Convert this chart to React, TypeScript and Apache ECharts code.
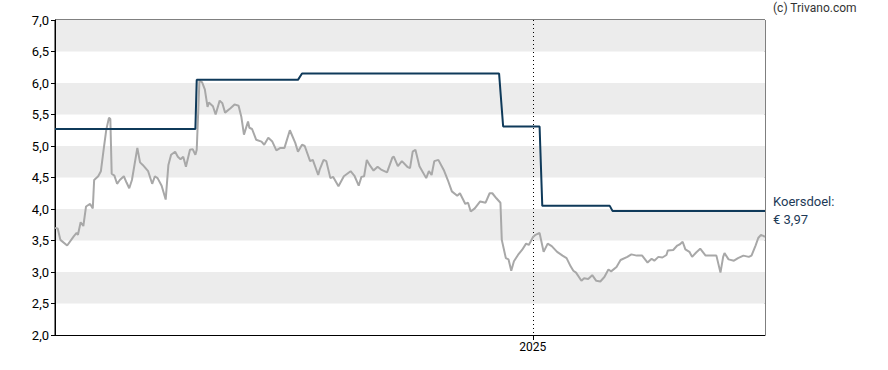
import React, { useEffect, useRef } from "react";
import * as echarts from "echarts";

// Day offsets are counted from the first day shown on the x axis (2024-01-13).
const startYear = 2024;
const startMonth = 0;
const startDay = 13;
const dayCount = 527;

const yTicks = [2, 2.5, 3, 3.5, 4, 4.5, 5, 5.5, 6, 6.5, 7];
const yearLabel = "2025";

const priceDays = [
  0, 2, 4, 9, 14, 16, 17, 19, 21, 23, 26, 28, 29, 32, 34, 36, 38, 40, 41, 42, 44, 46, 48, 51, 53, 55, 57, 61,
  63, 65, 69, 72, 74, 76, 79, 82, 84, 86, 89, 91, 93, 95, 97, 100, 102, 104, 105, 107, 109, 111, 113, 114,
  117, 119, 122, 124, 126, 130, 133, 136, 138, 140, 143, 144, 146, 149, 153, 155, 158, 161, 164, 167, 170,
  174, 178, 180, 183, 185, 189, 191, 195, 196, 199, 201, 204, 206, 210, 214, 219, 222, 225, 227, 229, 231,
  233, 236, 239, 242, 246, 250, 251, 254, 257, 261, 263, 265, 267, 270, 275, 277, 279, 281, 284, 288, 291,
  294, 298, 300, 304, 306, 308, 311, 315, 319, 322, 324, 327, 330, 331, 334, 336, 338, 340, 343, 346, 349,
  351, 354, 356, 359, 362, 365, 368, 372, 376, 379, 382, 384, 386, 390, 392, 395, 398, 401, 404, 407, 410,
  412, 416, 419, 424, 427, 431, 435, 439, 442, 444, 447, 450, 453, 454, 458, 461, 463, 465, 467, 470, 472,
  475, 478, 482, 486, 490, 493, 495, 496, 499, 503, 506, 510, 514, 516, 519, 521, 523, 526,
];
const priceValues = [
  3.7, 3.69, 3.51, 3.42, 3.57, 3.62, 3.59, 3.79, 3.73, 4.04, 4.08, 4.01, 4.46, 4.52, 4.6, 4.94, 5.26, 5.45,
  5.43, 4.56, 4.53, 4.4, 4.46, 4.52, 4.42, 4.33, 4.46, 4.97, 4.74, 4.7, 4.6, 4.4, 4.52, 4.49, 4.37, 4.15,
  4.7, 4.86, 4.91, 4.83, 4.79, 4.83, 4.67, 4.94, 4.95, 4.86, 4.94, 6.04, 6.01, 5.9, 5.62, 5.69, 5.63, 5.5,
  5.72, 5.68, 5.53, 5.6, 5.66, 5.64, 5.47, 5.18, 5.39, 5.29, 5.27, 5.1, 5.07, 5.02, 5.13, 5.07, 4.93, 4.97,
  4.97, 5.25, 5.05, 4.91, 5.02, 5.0, 4.76, 4.78, 4.54, 4.62, 4.78, 4.76, 4.49, 4.51, 4.36, 4.52, 4.6, 4.52,
  4.37, 4.51, 4.52, 4.78, 4.7, 4.61, 4.67, 4.62, 4.58, 4.82, 4.83, 4.68, 4.76, 4.67, 4.65, 4.91, 4.94, 4.68,
  4.49, 4.6, 4.54, 4.76, 4.78, 4.62, 4.46, 4.28, 4.21, 4.25, 4.08, 4.1, 3.96, 4.01, 4.12, 4.1, 4.25, 4.25,
  4.17, 4.1, 3.51, 3.22, 3.2, 3.02, 3.17, 3.27, 3.35, 3.45, 3.43, 3.55, 3.59, 3.62, 3.32, 3.45, 3.41, 3.32,
  3.26, 3.22, 3.09, 3.02, 2.99, 2.86, 2.9, 2.89, 2.95, 2.86, 2.85, 2.92, 3.04, 3.01, 3.08, 3.19, 3.24, 3.28,
  3.26, 3.26, 3.15, 3.21, 3.18, 3.24, 3.23, 3.27, 3.34, 3.35, 3.42, 3.44, 3.48, 3.36, 3.32, 3.24, 3.31, 3.37,
  3.26, 3.26, 3.26, 2.99, 3.24, 3.3, 3.2, 3.18, 3.22, 3.26, 3.24, 3.26, 3.42, 3.54, 3.59, 3.56,
];

const targetDays = [0, 104, 105, 180, 183, 329, 332, 359, 361, 411, 413, 526];
const targetValues = [5.27, 5.27, 6.05, 6.05, 6.15, 6.15, 5.31, 5.31, 4.05, 4.05, 3.97, 3.97];

const targetLabel = "Koersdoel:";
const copyright = "(c) Trivano.com";

function pad(n: number) {
  return n < 10 ? "0" + n : "" + n;
}

function buildCategories(): string[] {
  const out: string[] = [];
  for (let i = 0; i < dayCount; i++) {
    const d = new Date(Date.UTC(startYear, startMonth, startDay + i));
    out.push(d.getUTCFullYear() + "-" + pad(d.getUTCMonth() + 1) + "-" + pad(d.getUTCDate()));
  }
  return out;
}

const fmt = (v: number, digits: number) => v.toFixed(digits).replace(".", ",");

export default function App() {
  const ref = useRef<HTMLDivElement>(null);

  useEffect(() => {
    if (!ref.current) return;
    const chart = echarts.init(ref.current, undefined, { renderer: "svg" });
    const categories = buildCategories();
    const isYearStart = (_i: number, value: string) => value === yearLabel + "-01-01";
    const font = "Roboto, Arial, sans-serif";

    chart.setOption({
      animation: false,
      backgroundColor: "#ffffff",
      textStyle: { fontFamily: font },
      grid: {
        left: 55,
        right: 123,
        top: 20,
        bottom: 35,
        show: true,
        borderColor: "#000000",
        borderWidth: 1,
        containLabel: false,
        outerBoundsMode: "none",
      },
      title: {
        text: copyright,
        left: 773,
        top: 2,
        padding: 0,
        textStyle: { fontSize: 12, fontWeight: "normal", color: "#333333", fontFamily: font },
      },
      xAxis: {
        type: "category",
        data: categories,
        boundaryGap: false,
        axisLine: { show: true, lineStyle: { color: "#000000", width: 1 } },
        axisTick: { show: true, interval: isYearStart, length: 5, lineStyle: { color: "#000000" } },
        axisLabel: {
          show: true,
          interval: isYearStart,
          formatter: (v: string) => v.slice(0, 4),
          color: "#000000",
          fontSize: 12,
          margin: 6,
          fontFamily: font,
        },
        splitLine: {
          show: true,
          interval: isYearStart,
          lineStyle: { color: "#000000", type: [1, 3], width: 1 },
        },
      },
      yAxis: {
        type: "value",
        min: yTicks[0],
        max: yTicks[yTicks.length - 1],
        interval: yTicks[1] - yTicks[0],
        axisLine: { show: true, lineStyle: { color: "#000000", width: 1 } },
        axisTick: { show: true, length: 4, lineStyle: { color: "#000000" } },
        axisLabel: {
          color: "#000000",
          fontSize: 13,
          margin: 6,
          fontFamily: font,
          formatter: (v: number) => fmt(v, 1),
        },
        splitLine: { show: false },
        splitArea: { show: true, areaStyle: { color: ["#ffffff", "#ececec"] } },
      },
      series: [
        {
          name: "Koers",
          type: "line",
          data: priceDays.map((d, i) => [d, priceValues[i]]),
          showSymbol: false,
          symbol: "none",
          lineStyle: { color: "#a8a8a8", width: 2 },
          z: 2,
        },
        {
          name: "Koersdoel",
          type: "line",
          data: targetDays.map((d, i) => [d, targetValues[i]]),
          showSymbol: false,
          symbol: "none",
          lineStyle: { color: "#0f3a5a", width: 2 },
          z: 3,
          endLabel: {
            show: true,
            distance: 8,
            align: "left",
            lineHeight: 18,
            fontSize: 13,
            fontFamily: font,
            color: "#1d3a57",
            formatter: (p: any) => targetLabel + "\n€ " + fmt(p.value[1], 2),
          },
        },
      ],
    });

    return () => chart.dispose();
  }, []);

  return (
    <div
      ref={ref}
      style={{ position: "absolute", left: 0, top: 0, width: 888, height: 370 }}
    />
  );
}
